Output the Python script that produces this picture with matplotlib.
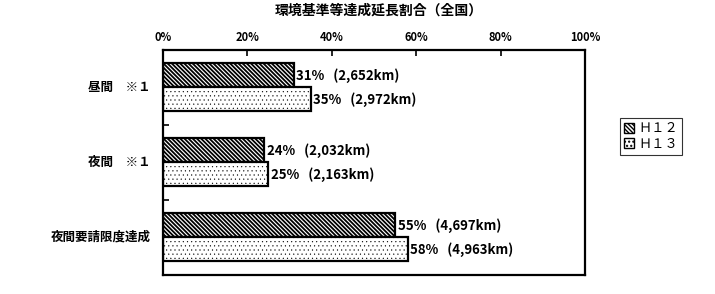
import numpy as np
import matplotlib
matplotlib.use('Agg')
import matplotlib.pyplot as plt
from matplotlib.patches import Patch

plt.rcParams['font.family'] = ['Noto Sans CJK JP', 'DejaVu Sans']

# data
categories = ['昼間　※１', '夜間　※１', '夜間要請限度達成']
series = ['Ｈ１２', 'Ｈ１３']
h12_pct = [31, 24, 55]
h13_pct = [35, 25, 58]
h12_km = ['2,652', '2,032', '4,697']
h13_km = ['2,972', '2,163', '4,963']
xticks = [0, 20, 40, 60, 80, 100]

fig = plt.figure(figsize=(7.15, 2.94), dpi=100)
ax = fig.add_axes([0.228, 0.065, 0.590, 0.765])

y = np.arange(len(categories)) + 0.5
bh = 0.32
styles = [dict(hatch='\\' * 8, hlw=1.3, vals=h12_pct, km=h12_km, off=-bh / 2),
          dict(hatch='.' * 4, hlw=0.3, vals=h13_pct, km=h13_km, off=bh / 2)]

handles = []
for s in styles:
    with plt.rc_context({'hatch.linewidth': s['hlw']}):
        ax.barh(y + s['off'], s['vals'], height=bh, color='white',
                edgecolor='black', linewidth=1.6, hatch=s['hatch'])
        handles.append(Patch(facecolor='white', edgecolor='black',
                             hatch=s['hatch']))
    for yi, v, km in zip(y + s['off'], s['vals'], s['km']):
        ax.text(v + 0.6, yi, '{}%   ({}km)'.format(v, km), va='center',
                ha='left', fontsize=9.5, fontweight='bold')

ax.set_xlim(0, 100)
ax.set_ylim(3, 0)
ax.xaxis.tick_top()
ax.set_xticks(xticks)
ax.set_xticklabels(['{}%'.format(t) for t in xticks], fontsize=8,
                   fontweight='bold')
ax.set_yticks([1, 2])
ax.set_yticklabels([])
ax.tick_params(axis='both', direction='in', length=4, width=1.2)
ax.tick_params(axis='x', pad=4)
for sp in ax.spines.values():
    sp.set_linewidth(1.6)

for yi, c in zip(y, categories):
    ax.text(-0.03, yi, c, transform=ax.get_yaxis_transform(), ha='right',
            va='center', fontsize=9, fontweight='bold')

fig.text(0.53, 0.963, '環境基準等達成延長割合（全国）', ha='center',
         va='center', fontsize=10, fontweight='bold')

leg = fig.legend(handles, series, loc='center', bbox_to_anchor=(0.91, 0.535),
                 fontsize=9.5, frameon=True, fancybox=False, edgecolor='black',
                 handlelength=0.8, handleheight=0.8, handletextpad=0.3,
                 borderpad=0.3, labelspacing=0.2)
leg.get_frame().set_linewidth(0.8)

fig.savefig('out.png', dpi=100)
